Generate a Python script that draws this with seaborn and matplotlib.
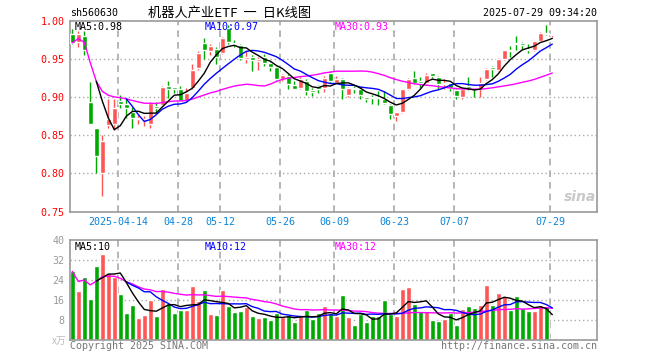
import matplotlib
matplotlib.use('Agg')
import matplotlib.pyplot as plt
import seaborn as sns
import pandas as pd
import numpy as np

# daily K data, 2025-04-01 .. 2025-07-29
opens = [0.982, 0.972, 0.980, 0.894, 0.859, 0.800, 0.863, 0.864, 0.895, 0.891,
         0.880, 0.871, 0.869, 0.864, 0.888, 0.889, 0.914, 0.913, 0.910, 0.895,
         0.912, 0.938, 0.971, 0.960, 0.963, 0.958, 0.990, 0.971, 0.968, 0.950,
         0.953, 0.947, 0.952, 0.945, 0.939, 0.923, 0.927, 0.916, 0.912, 0.921,
         0.909, 0.914, 0.912, 0.932, 0.919, 0.924, 0.902, 0.912, 0.911, 0.900,
         0.900, 0.900, 0.898, 0.890, 0.875, 0.880, 0.910, 0.925, 0.921, 0.918,
         0.931, 0.926, 0.917, 0.918, 0.909, 0.900, 0.915, 0.911, 0.910, 0.923,
         0.939, 0.935, 0.950, 0.962, 0.971, 0.971, 0.963, 0.961, 0.974, 0.984,
         0.981]
highs = [0.989, 0.986, 0.986, 0.920, 0.860, 0.850, 0.897, 0.897, 0.903, 0.897,
         0.887, 0.877, 0.875, 0.894, 0.894, 0.915, 0.921, 0.913, 0.914, 0.912,
         0.943, 0.960, 0.977, 0.969, 0.965, 0.978, 0.995, 0.975, 0.969, 0.960,
         0.955, 0.952, 0.956, 0.946, 0.940, 0.930, 0.930, 0.921, 0.926, 0.924,
         0.912, 0.916, 0.927, 0.934, 0.928, 0.925, 0.913, 0.915, 0.913, 0.900,
         0.902, 0.908, 0.908, 0.891, 0.881, 0.911, 0.925, 0.934, 0.926, 0.932,
         0.932, 0.927, 0.923, 0.919, 0.910, 0.911, 0.926, 0.912, 0.926, 0.938,
         0.940, 0.951, 0.962, 0.967, 0.980, 0.972, 0.969, 0.974, 0.985, 0.994,
         0.983]
lows = [0.970, 0.966, 0.955, 0.864, 0.801, 0.770, 0.860, 0.857, 0.886, 0.873,
        0.859, 0.864, 0.862, 0.860, 0.879, 0.888, 0.899, 0.905, 0.895, 0.893,
        0.910, 0.935, 0.950, 0.955, 0.943, 0.956, 0.970, 0.966, 0.949, 0.945,
        0.934, 0.936, 0.940, 0.934, 0.922, 0.921, 0.911, 0.910, 0.910, 0.902,
        0.901, 0.905, 0.907, 0.919, 0.918, 0.898, 0.900, 0.905, 0.897, 0.894,
        0.891, 0.889, 0.891, 0.871, 0.868, 0.879, 0.909, 0.917, 0.912, 0.917,
        0.925, 0.911, 0.911, 0.908, 0.898, 0.897, 0.909, 0.900, 0.900, 0.922,
        0.926, 0.934, 0.949, 0.953, 0.962, 0.961, 0.958, 0.960, 0.973, 0.981,
        0.978]
closes = [0.971, 0.982, 0.962, 0.865, 0.823, 0.842, 0.871, 0.885, 0.891, 0.885,
          0.873, 0.873, 0.871, 0.892, 0.886, 0.913, 0.911, 0.910, 0.895, 0.905,
          0.936, 0.958, 0.962, 0.967, 0.953, 0.977, 0.972, 0.970, 0.951, 0.952,
          0.949, 0.950, 0.945, 0.939, 0.924, 0.929, 0.917, 0.911, 0.924, 0.908,
          0.907, 0.911, 0.925, 0.921, 0.924, 0.911, 0.912, 0.910, 0.902, 0.898,
          0.899, 0.899, 0.892, 0.878, 0.880, 0.910, 0.924, 0.919, 0.918, 0.929,
          0.927, 0.917, 0.918, 0.912, 0.901, 0.911, 0.912, 0.910, 0.918, 0.937,
          0.937, 0.950, 0.961, 0.960, 0.970, 0.968, 0.962, 0.973, 0.984, 0.982,
          0.983]
# volume, x 10k lots
volumes = [27.5, 19.5, 25.1, 16.3, 29.5, 34.4, 26.7, 25.3, 18.3, 10.7,
           13.9, 8.7, 9.9, 16.0, 9.5, 20.3, 14.7, 10.7, 11.9, 11.9,
           21.5, 15.5, 19.9, 10.3, 9.9, 19.9, 13.5, 11.1, 11.5, 13.1,
           9.5, 8.7, 9.1, 8.0, 10.7, 9.1, 10.1, 7.1, 9.5, 11.9,
           8.4, 10.7, 13.5, 10.7, 9.5, 17.9, 9.1, 6.3, 10.3, 7.1,
           9.5, 9.5, 15.9, 10.3, 9.5, 20.3, 21.1, 14.3, 11.5, 11.5,
           7.9, 7.5, 8.3, 10.7, 6.3, 12.3, 13.5, 12.7, 13.9, 21.9,
           13.9, 18.7, 17.5, 11.9, 17.5, 12.7, 11.5, 11.5, 13.9, 13.5,
           0.7]

holidays = ['2025-04-04', '2025-05-01', '2025-05-02', '2025-05-05', '2025-06-02']
tick_dates = ['2025-04-14', '2025-04-28', '2025-05-12', '2025-05-26',
              '2025-06-09', '2025-06-23', '2025-07-07', '2025-07-29']

days = pd.bdate_range('2025-04-01', '2025-07-29')
days = days[~days.isin(pd.to_datetime(holidays))]

df = pd.DataFrame({'date': days, 'open': opens, 'high': highs, 'low': lows,
                   'close': closes, 'vol': volumes})
df['i'] = np.arange(len(df))
df['up'] = df['close'] >= df['open']
df['ma5'] = df['close'].rolling(5).mean()
df['ma10'] = df['close'].rolling(10).mean()
df['ma30'] = df['close'].rolling(30, min_periods=1).mean()
df['vma5'] = df['vol'].rolling(5).mean()
df['vma10'] = df['vol'].rolling(10).mean()
df['vma30'] = df['vol'].rolling(30, min_periods=1).mean()

RED = '#ff5555'
GREEN = '#00a800'
GRAY = '#aaaaaa'
mono = 'DejaVu Sans Mono'

sns.set_style('white')
plt.rcParams['font.family'] = ['Noto Sans CJK SC', 'DejaVu Sans']

W, H = 660, 360
fig = plt.figure(figsize=(6.6, 3.6), dpi=100)
ax1 = fig.add_axes([70 / W, 1 - 211.5 / H, 527.3 / W, 190.8 / H])
ax2 = fig.add_axes([70 / W, 1 - 340.3 / H, 527.3 / W, 100.3 / H])

colors = np.where(df['up'], RED, GREEN)
tick_pos = [df.index[df['date'] == pd.Timestamp(d)][0] - 0.33 for d in tick_dates]
tick_lab = [tick_dates[0]] + [d[5:] for d in tick_dates[1:]]

for ax in (ax1, ax2):
    ax.set_xlim(-0.38, 87.5)
    for p in tick_pos:
        ax.axvline(p, color=GRAY, lw=1.2, ls=(0, (4, 3)), zorder=0)
    for s in ax.spines.values():
        s.set_color('#999999')
        s.set_linewidth(1.2)
    ax.tick_params(length=0)

# candles
ax1.vlines(df['i'], df['low'], df['high'], colors=colors, lw=1, zorder=2)
body = (df['close'] - df['open']).abs().clip(lower=0.0012)
ax1.bar(df['i'], body, bottom=df[['open', 'close']].min(axis=1), width=0.82,
        color=colors, zorder=3)
sns.lineplot(data=df, x='i', y='ma30', color='#ff00ff', lw=1, ax=ax1, zorder=4)
sns.lineplot(data=df, x='i', y='ma10', color='#0000ff', lw=1, ax=ax1, zorder=4)
sns.lineplot(data=df, x='i', y='ma5', color='black', lw=1, ax=ax1, zorder=4)
ax1.set_ylim(0.75, 1.00)
ax1.set_yticks([0.75, 0.80, 0.85, 0.90, 0.95, 1.00])
ax1.set_yticklabels(['%.2f' % v for v in [0.75, 0.80, 0.85, 0.90, 0.95, 1.00]],
                    color='#ff0000', family=mono, fontsize=7.2)
for v in [0.80, 0.85, 0.90, 0.95]:
    ax1.axhline(v, color=GRAY, lw=1, ls=(0, (1, 2)), zorder=0)
ax1.set_xticks(tick_pos)
ax1.set_xticklabels(tick_lab, color='#0a84d8', family=mono, fontsize=7.2)
ax1.tick_params(axis='y', pad=4)
ax1.tick_params(axis='x', pad=4)
ax1.set_xlabel('')
ax1.set_ylabel('')

# volume
ax2.bar(df['i'], df['vol'], width=0.82, color=colors, zorder=2)
sns.lineplot(data=df, x='i', y='vma30', color='#ff00ff', lw=1, ax=ax2, zorder=4)
sns.lineplot(data=df, x='i', y='vma10', color='#0000ff', lw=1, ax=ax2, zorder=4)
sns.lineplot(data=df, x='i', y='vma5', color='black', lw=1, ax=ax2, zorder=4)
ax2.set_ylim(0, 40)
ax2.set_yticks([8, 16, 24, 32, 40])
ax2.set_yticklabels(['8', '16', '24', '32', '40'], color='#999999',
                    family=mono, fontsize=7.2)
for v in [8, 16, 24, 32]:
    ax2.axhline(v, color=GRAY, lw=1, ls=(0, (1, 2)), zorder=0)
ax2.set_xticks([])
ax2.tick_params(axis='y', pad=4)
ax2.set_xlabel('')
ax2.set_ylabel('')

last = df.iloc[-1]

def ftxt(x, y, s, **kw):
    fig.text(x / W, 1 - y / H, s, va='center', **kw)

ftxt(70, 13, 'sh560630', family=mono, fontsize=7.2, color='black')
ftxt(230, 13, '机器人产业ETF  一  日K线图', fontsize=9.5, color='black', ha='center')
ftxt(597, 13, '2025-07-29 09:34:20', family=mono, fontsize=7.2, color='black', ha='right')

ftxt(75, 27, 'MA5:%.2f' % last['ma5'], family=mono, fontsize=7.2, color='black')
ftxt(205, 27, 'MA10:%.2f' % last['ma10'], family=mono, fontsize=7.2, color='#0000ff')
ftxt(335, 27, 'MA30:%.2f' % last['ma30'], family=mono, fontsize=7.2, color='#ff00ff')

ftxt(75, 247, 'MA5:%d' % last['vma5'], family=mono, fontsize=7.2, color='black')
ftxt(205, 247, 'MA10:%d' % last['vma10'], family=mono, fontsize=7.2, color='#0000ff')
ftxt(335, 247, 'MA30:%d' % last['vma30'], family=mono, fontsize=7.2, color='#ff00ff')

ftxt(66, 341, 'x万', fontsize=7, color='#bbbbbb', ha='right')
ftxt(70, 346, 'Copyright 2025 SINA.COM', family=mono, fontsize=7.2, color='#777777')
ftxt(597, 346, 'http://finance.sina.com.cn', family=mono, fontsize=7.2,
     color='#777777', ha='right')
ftxt(596, 197, 'sina', fontsize=10, color='#c8c8c8', ha='right',
     style='italic', weight='bold', family='DejaVu Sans')

fig.savefig('out.png', dpi=100)
